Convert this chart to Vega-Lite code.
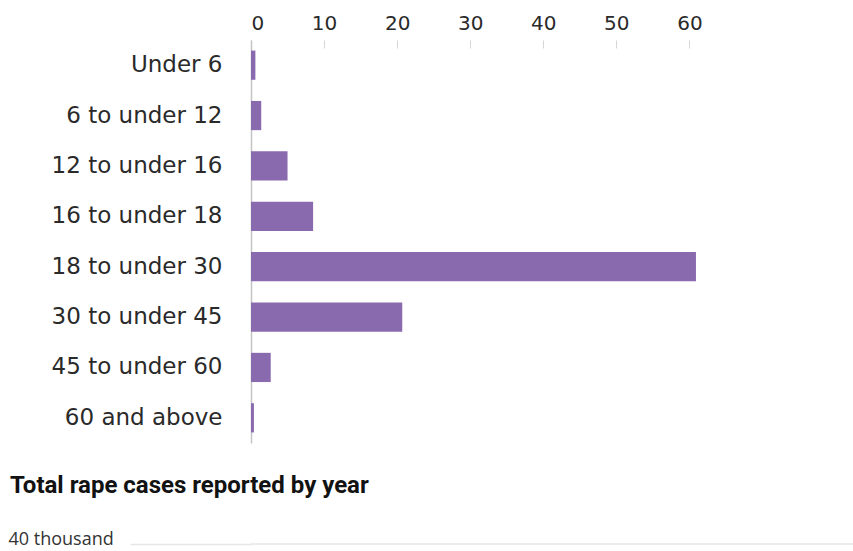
{
  "$schema": "https://vega.github.io/schema/vega-lite/v6.json",
  "background": "white",
  "padding": {"left": 8, "top": 13, "right": 0, "bottom": 0},
  "spacing": 31,
  "config": {"view": {"stroke": null}, "font": "DejaVu Sans"},
  "vconcat": [
    {
      "data": {
        "values": [
          {"age": "Under 6", "share": 0.6},
          {"age": "6 to under 12", "share": 1.4},
          {"age": "12 to under 16", "share": 5.0},
          {"age": "16 to under 18", "share": 8.5},
          {"age": "18 to under 30", "share": 60.9},
          {"age": "30 to under 45", "share": 20.7},
          {"age": "45 to under 60", "share": 2.7},
          {"age": "60 and above", "share": 0.4}
        ]
      },
      "width": 453,
      "height": 403,
      "mark": {"type": "bar", "color": "#8a6aae"},
      "encoding": {
        "y": {
          "field": "age",
          "type": "nominal",
          "sort": null,
          "scale": {"paddingInner": 0.42, "paddingOuter": 0.21},
          "axis": {
            "title": null,
            "ticks": false,
            "labelPadding": 29,
            "labelFontSize": 23,
            "labelColor": "#2a2a2a",
            "domainColor": "#c4c4c4",
            "domainWidth": 1.5
          }
        },
        "x": {
          "field": "share",
          "type": "quantitative",
          "scale": {"domain": [0, 62], "nice": false},
          "axis": {
            "orient": "top",
            "title": null,
            "values": [0, 10, 20, 30, 40, 50, 60],
            "grid": false,
            "domain": false,
            "tickSize": -8,
            "tickColor": "#d6d6d6",
            "labelPadding": 19,
            "labelFontSize": 20,
            "labelColor": "#2a2a2a",
            "labelBaseline": "alphabetic"
          }
        }
      }
    },
    {
      "data": {"values": [{"cases_thousand": 40}]},
      "width": 602,
      "height": 4,
      "title": {
        "text": "Total rape cases reported by year",
        "anchor": "start",
        "frame": "group",
        "dx": -241,
        "font": "Roboto",
        "fontSize": 24,
        "fontWeight": "bold",
        "color": "#121212",
        "baseline": "alphabetic",
        "offset": 13
      },
      "mark": {"type": "rule", "color": "#e6e6e6", "strokeWidth": 1.5},
      "encoding": {
        "y": {
          "field": "cases_thousand",
          "type": "quantitative",
          "scale": {"domain": [0, 40]},
          "axis": {
            "title": null,
            "values": [40],
            "labelExpr": "datum.value + ' thousand'",
            "grid": false,
            "domain": false,
            "tickSize": 121,
            "tickColor": "#e6e6e6",
            "tickWidth": 1.5,
            "labelPadding": 122,
            "labelAlign": "left",
            "labelBaseline": "alphabetic",
            "labelFont": "Open Sans",
            "labelFontSize": 18,
            "labelColor": "#333333"
          }
        }
      }
    }
  ]
}
